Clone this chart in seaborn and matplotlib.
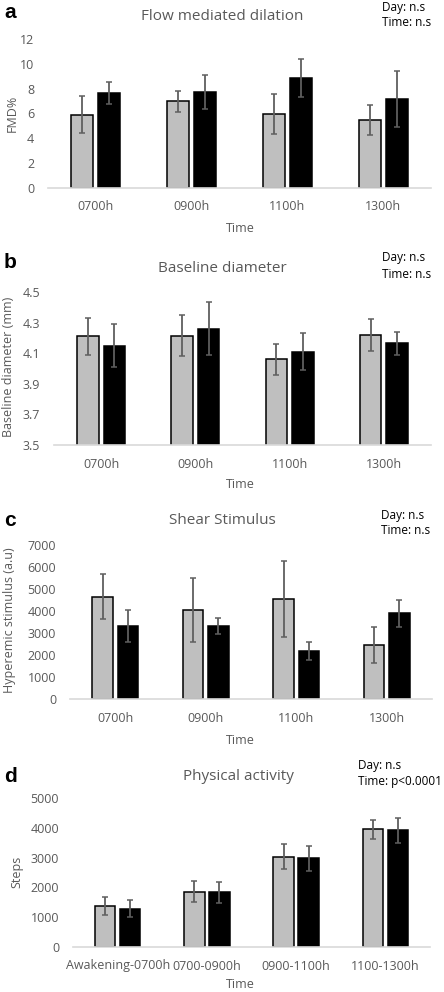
import numpy as np
import pandas as pd
import seaborn as sns
import matplotlib
matplotlib.use('Agg')
import matplotlib.pyplot as plt

# ---- data ----
times = ['0700h', '0900h', '1100h', '1300h']
activity_times = ['Awakening-0700h', '0700-0900h', '0900-1100h', '1100-1300h']
groups = ['Day 1', 'Day 2']

fmd_day1 = [5.9, 7.0, 5.95, 5.5]
fmd_day1_err = [1.47, 0.85, 1.6, 1.2]
fmd_day2 = [7.65, 7.72, 8.82, 7.15]
fmd_day2_err = [0.85, 1.35, 1.53, 2.25]

diam_day1 = [4.21, 4.215, 4.06, 4.22]
diam_day1_err = [0.12, 0.135, 0.10, 0.105]
diam_day2 = [4.15, 4.26, 4.11, 4.165]
diam_day2_err = [0.14, 0.175, 0.12, 0.075]

shear_day1 = [4650, 4050, 4560, 2470]
shear_day1_err = [1020, 1460, 1720, 820]
shear_day2 = [3320, 3320, 2170, 3890]
shear_day2_err = [740, 360, 410, 620]

steps_day1 = [1370, 1860, 3030, 3950]
steps_day1_err = [300, 350, 420, 310]
steps_day2 = [1290, 1840, 2970, 3910]
steps_day2_err = [300, 350, 410, 420]

sns.set_theme(style='white')
plt.rcParams['font.family'] = ['Open Sans', 'DejaVu Sans']

W, H = 444, 992
fig = plt.figure(figsize=(W / 100, H / 100), dpi=100)
grey_txt = '#595959'


def px_rect(l, t, r, b):
    return [l / W, 1 - b / H, (r - l) / W, (b - t) / H]


def panel(rect, cats, m1, e1, m2, e2, ylim, yticks, ylabels, ylabel, title):
    ax = fig.add_axes(px_rect(*rect))
    df = pd.DataFrame({'time': cats * 2,
                       'group': [groups[0]] * len(cats) + [groups[1]] * len(cats),
                       'value': list(m1) + list(m2)})
    sns.barplot(data=df, x='time', y='value', hue='group', order=cats,
                palette=['#BFBFBF', '#000000'], width=0.56, gap=0.18,
                edgecolor='black', linewidth=1.1, errorbar=None,
                legend=False, ax=ax)
    for cont, err in zip(ax.containers, [e1, e2]):
        xs = [p.get_x() + p.get_width() / 2 for p in cont.patches]
        ys = [p.get_y() + p.get_height() for p in cont.patches]
        ax.errorbar(xs, ys, yerr=err, fmt='none', ecolor='#5f5f5f',
                    elinewidth=1.3, capsize=2.3, capthick=1.1, zorder=5)
    ax.set_ylim(*ylim)
    ax.set_yticks(yticks)
    ax.set_yticklabels(ylabels)
    ax.set_xlim(-0.5, len(cats) - 0.5)
    for s in ['top', 'right', 'left']:
        ax.spines[s].set_visible(False)
    ax.spines['bottom'].set_color('#D9D9D9')
    ax.spines['bottom'].set_linewidth(1.2)
    ax.tick_params(axis='both', length=0, labelsize=9, colors=grey_txt)
    ax.tick_params(axis='y', pad=10)
    ax.tick_params(axis='x', pad=9)
    ax.set_xlabel('')
    ax.set_ylabel('')
    return ax


def fig_text(x, y, s, **kw):
    fig.text(x / W, 1 - y / H, s, **kw)


# panel a
panel((48, 39, 431, 188), times, fmd_day1, fmd_day1_err, fmd_day2, fmd_day2_err,
      (0, 12), np.arange(0, 13, 2), [str(v) for v in range(0, 13, 2)], 'FMD%', '')
# panel b
bt = np.round(np.arange(3.5, 4.51, 0.2), 1)
panel((54, 292, 431, 445), times, diam_day1, diam_day1_err, diam_day2, diam_day2_err,
      (3.5, 4.5), bt, [f'{v:.1f}' for v in bt], '', '')
# panel c
panel((70, 545, 432, 699), times, shear_day1, shear_day1_err, shear_day2, shear_day2_err,
      (0, 7000), np.arange(0, 7001, 1000), [str(v) for v in range(0, 7001, 1000)], '', '')
# panel d
panel((73, 798, 430, 947), activity_times, steps_day1, steps_day1_err, steps_day2, steps_day2_err,
      (0, 5000), np.arange(0, 5001, 1000), [str(v) for v in range(0, 5001, 1000)], '', '')

# titles, axis labels, panel letters, stats notes
titles = [('Flow mediated dilation', 222, 16), ('Baseline diameter', 222, 268),
          ('Shear Stimulus', 222, 521), ('Physical activity', 238, 777)]
for s, x, y in titles:
    fig_text(x, y, s, ha='center', va='center', fontsize=11, color=grey_txt)

for y in [228, 485, 740, 985]:
    fig_text(240, y, 'Time', ha='center', va='center', fontsize=9, color=grey_txt)

ylabs = [('FMD%', 12, 113), ('Baseline diameter (mm)', 9, 367),
         ('Hyperemic stimulus (a.u)', 10, 620), ('Steps', 17, 872)]
for s, x, y in ylabs:
    fig_text(x, y, s, ha='center', va='center', rotation=90, fontsize=9, color=grey_txt)

letters = [('a', 13), ('b', 262), ('c', 520), ('d', 776)]
for s, y in letters:
    fig_text(4, y, s, ha='left', va='center', fontsize=15, fontweight='bold',
             color='black', family=['Liberation Sans', 'DejaVu Sans'])

notes = [(382, 7, 23, 'Time: n.s'), (382, 258, 275, 'Time: n.s'),
         (381, 515, 531, 'Time: n.s'), (358, 766, 782, 'Time: p<0.0001')]
for x, y1, y2, t in notes:
    fig_text(x, y1, 'Day: n.s', ha='left', va='center', fontsize=8.5, color='black')
    fig_text(x, y2, t, ha='left', va='center', fontsize=8.5, color='black')

fig.savefig('out.png', dpi=100, facecolor='white')
